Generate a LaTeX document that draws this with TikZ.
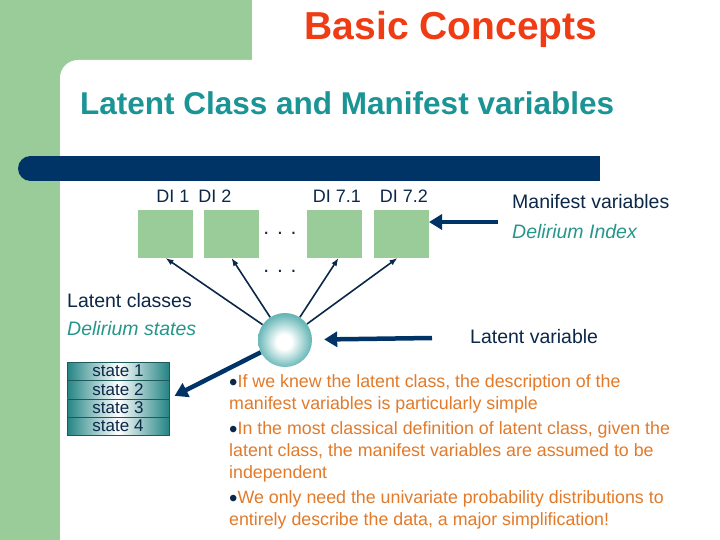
\documentclass[tikz,border=0pt]{standalone}
\usepackage{fontspec}
\setmainfont{Liberation Sans}
\usetikzlibrary{positioning,arrows.meta,shapes.geometric}
\definecolor{bggreen}{RGB}{153,204,153}
\definecolor{navy}{RGB}{0,51,102}
\definecolor{inkblue}{RGB}{12,40,72}
\definecolor{titlered}{RGB}{240,60,20}
\definecolor{subteal}{RGB}{26,148,148}
\definecolor{itteal}{RGB}{38,150,138}
\definecolor{bulletorange}{RGB}{226,122,42}
\definecolor{balledge}{RGB}{28,132,134}
\definecolor{ballmid}{RGB}{110,186,186}
\definecolor{celledge}{RGB}{30,90,92}
\definecolor{cellteal}{RGB}{36,132,132}
\pgfdeclareradialshading{lvball}{\pgfpoint{-1bp}{-2bp}}{color(0bp)=(white); color(7bp)=(white); color(24bp)=(ballmid); color(42bp)=(balledge); color(52bp)=(balledge)}
\newcommand{\dotitem}{\textcolor{inkblue}{\raisebox{-3pt}{\fontsize{24}{24}\selectfont\textbullet}}}

\begin{document}
\begin{tikzpicture}[x=1pt, y=-1pt, node distance=11pt,
    box/.style = {fill=bggreen, minimum width=55pt, minimum height=48pt, inner sep=0pt, outer sep=0pt},
    lbl/.style = {anchor=base, inner sep=0pt, font=\fontsize{18}{20}\selectfont, text=inkblue},
    txt/.style = {anchor=base west, inner sep=0pt, font=\fontsize{19.5}{22}\selectfont, text=inkblue},
    ittxt/.style = {txt, text=itteal, font=\fontsize{19.5}{22}\selectfont\itshape},
    cell/.style = {draw=celledge, left color=cellteal, right color=cellteal, middle color=white,
        minimum width=102pt, minimum height=18pt, inner sep=0pt, font=\fontsize{17}{17}\selectfont, text=inkblue},
    ball/.style = {circle, shading=lvball, minimum size=54pt, inner sep=0pt},
    link/.style = {-{Latex[length=8pt,width=6pt]}, draw=inkblue, line width=1.6pt},
    fat/.style = {-{Triangle[length=13pt,width=15pt]}, draw=navy, line width=4.5pt},
    para/.style = {anchor=base west, align=left, inner sep=0pt, text=bulletorange, font=\fontsize{17.8}{22}\selectfont}]
    \useasboundingbox (0,0) rectangle (720,540);
    % background
    \fill[bggreen] (0,0) rectangle (720,540);
    \fill[white, rounded corners=18pt] (60,60) rectangle (760,580);
    \fill[white] (252,0) rectangle (720,61);
    \fill[navy] (30,156) rectangle (600,181);
    \fill[navy] (30.5,168.5) circle[radius=12.5];

    \node[anchor=base, inner sep=0pt, text=titlered, font=\fontsize{39}{44}\selectfont\bfseries] (title) at (451,40) {Basic Concepts};
    \node[anchor=base west, inner sep=0pt, text=subteal, font=\fontsize{31.5}{36}\selectfont\bfseries] (sub) at (80,115) {Latent Class and Manifest variables};

    % manifest variables
    \node[box] (d1) at (165.5,234) {};
    \node[box, right=of d1] (d2) {};
    \node[box, right=48pt of d2] (d71) {};
    \node[box, right=12pt of d71] (d72) {};
    \node[lbl] (l1) at (173,203) {DI 1};
    \node[lbl] (l2) at (215,203) {DI 2};
    \node[lbl] (l71) at (337,203) {DI 7.1};
    \node[lbl] (l72) at (404,203) {DI 7.2};
    \node[lbl, font=\fontsize{21}{22}\selectfont] (dots1) at (280,234) {. . .};
    \node[lbl, font=\fontsize{21}{22}\selectfont] (dots2) at (280,272) {. . .};

    % latent variable
    \node[ball] (lv) at (285,340) {};
    \draw[link] (lv) -- (d1.south);
    \draw[link] (lv) -- (d2.south);
    \draw[link] (lv) -- ([xshift=4pt]d71.south);
    \draw[link] (lv) -- ([xshift=-4pt]d72.south);

    \node[txt] (mv) at (512,209) {Manifest variables};
    \node[ittxt] (di) at (512,238) {Delirium Index};
    \node[txt] (lc) at (67,307) {Latent classes};
    \node[ittxt] (ds) at (67,335) {Delirium states};
    \node[txt] (lvl) at (470,343) {Latent variable};

    \node[cell] (s1) at (118,371) {state 1};
    \node[cell, below=0pt of s1] (s2) {state 2};
    \node[cell, below=0pt of s2] (s3) {state 3};
    \node[cell, below=0pt of s3] (s4) {state 4};

    \coordinate (mvtail) at (498,222);
    \coordinate (lvtail) at (432,338);
    \draw[fat] (mvtail) -- (d72.east |- mvtail);
    \draw[fat, shorten >=12pt] (lvtail) -- (lv);
    \draw[fat, shorten >=6pt] (lv) -- (s2.south east);

    % bullets (base = last line)
    \node[para] (p1) at (229,409) {\dotitem If we knew the latent class, the description of the\\manifest variables is particularly simple};
    \node[para] (p2) at (229,478) {\dotitem In the most classical definition of latent class, given the\\latent class, the manifest variables are assumed to be\\independent};
    \node[para] (p3) at (229,525) {\dotitem We only need the univariate probability distributions to\\entirely describe the data, a major simplification!};
\end{tikzpicture}
\end{document}
